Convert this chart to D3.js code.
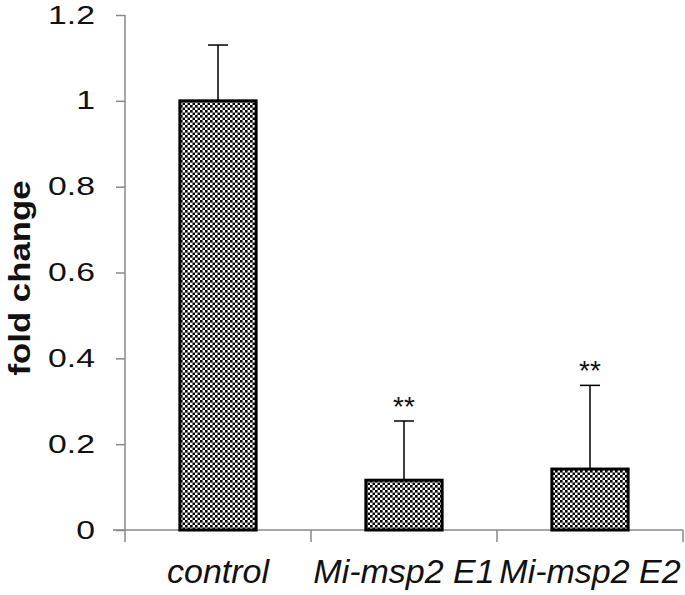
<!DOCTYPE html>
<html>
<head>
<meta charset="utf-8">
<script src="https://cdn.jsdelivr.net/npm/d3@7"></script>
<style>
  body { margin: 0; background: #fff; }
  svg text { font-family: "Liberation Sans", Arial, sans-serif; }
</style>
</head>
<body>
<svg id="chart" width="685" height="595"></svg>
<script>
// data
var categories = ["control", "Mi-msp2 E1", "Mi-msp2 E2"];
var foldChange = [1.0, 0.116, 0.142];
var errUpper = [0.13, 0.138, 0.195];
var stars = ["", "**", "**"];
var yTicks = [0, 0.2, 0.4, 0.6, 0.8, 1, 1.2];

var svg = d3.select("#chart");

var y = d3.scaleLinear().domain([0, 1.2]).range([530, 15]);
var x = d3.scaleBand().domain(categories).range([125, 683]).padding(0);
var barW = x.bandwidth() * 0.41;

// checker fill like the original hatch
var defs = svg.append("defs");
var pat = defs.append("pattern")
  .attr("id", "checker")
  .attr("patternUnits", "userSpaceOnUse")
  .attr("width", 5).attr("height", 5);
pat.append("rect").attr("width", 5).attr("height", 5).attr("fill", "#fff");
pat.append("rect").attr("x", 0).attr("y", 0).attr("width", 2.6).attr("height", 2.6).attr("fill", "#000");
pat.append("rect").attr("x", 2.5).attr("y", 2.5).attr("width", 2.6).attr("height", 2.6).attr("fill", "#000");

/* y axis */
var tickScaleX = 1.35;
var yAxis = svg.append("g")
  .attr("transform", "translate(125,0)")
  .call(d3.axisLeft(y).tickValues(yTicks).tickFormat(function(d){ return d; })
        .tickSize(9).tickPadding(21));
yAxis.select(".domain").attr("stroke", "#888").attr("stroke-width", 1.5).attr("d", "M0,15V530");
yAxis.selectAll(".tick line").attr("stroke", "#888").attr("stroke-width", 1.5);
// tick labels in the original are set in a wide face: widen them
yAxis.selectAll(".tick text")
  .attr("font-size", 25).attr("fill", "#111")
  .attr("x", -30 / tickScaleX)
  .attr("transform", "scale(" + tickScaleX + ",1)")
  .style("font-family", "'Liberation Sans', Arial, sans-serif");

/* x axis: baseline plus ticks between categories */
svg.append("line")
  .attr("x1", 113).attr("x2", x.range()[1])
  .attr("y1", y(0)).attr("y2", y(0))
  .attr("stroke", "#888").attr("stroke-width", 1.5);

var edges = categories.map(function(c){ return x(c); }).concat([x.range()[1]]);
svg.selectAll("line.xtick")
  .data(edges)
  .enter()
  .append("line")
  .attr("class", "xtick")
  .attr("x1", function(d){ return d; }).attr("x2", function(d){ return d; })
  .attr("y1", y(0)).attr("y2", y(0) + 12)
  .attr("stroke", "#888").attr("stroke-width", 1.5);

svg.selectAll("text.cat")
  .data(categories)
  .enter()
  .append("text")
  .attr("class", "cat")
  .attr("x", function(d){ return x(d) + x.bandwidth() / 2; })
  .attr("y", 583)
  .attr("text-anchor", "middle")
  .attr("font-size", 34)
  .attr("font-style", "italic")
  .attr("fill", "#111")
  .text(function(d){ return d; });

/* y label */
svg.append("text")
  .attr("transform", "translate(30,278) rotate(-90)")
  .attr("text-anchor", "middle")
  .attr("font-size", 30)
  .attr("font-weight", "bold")
  .attr("textLength", 195)
  .attr("lengthAdjust", "spacingAndGlyphs")
  .attr("fill", "#111")
  .text("fold change");

/* error bars (upper only) */
var cx = function(i){ return x(categories[i]) + x.bandwidth() / 2; };
svg.selectAll("line.err")
  .data(foldChange)
  .enter()
  .append("line")
  .attr("class", "err")
  .attr("x1", function(d, i){ return cx(i); }).attr("x2", function(d, i){ return cx(i); })
  .attr("y1", function(d){ return y(d); })
  .attr("y2", function(d, i){ return y(d + errUpper[i]); })
  .attr("stroke", "#000").attr("stroke-width", 1.5);
svg.selectAll("line.cap")
  .data(foldChange)
  .enter()
  .append("line")
  .attr("class", "cap")
  .attr("x1", function(d, i){ return cx(i) - 10; }).attr("x2", function(d, i){ return cx(i) + 10; })
  .attr("y1", function(d, i){ return y(d + errUpper[i]); })
  .attr("y2", function(d, i){ return y(d + errUpper[i]); })
  .attr("stroke", "#000").attr("stroke-width", 1.5);

/* bars */
svg.selectAll("rect.bar")
  .data(foldChange)
  .enter()
  .append("rect")
  .attr("class", "bar")
  .attr("x", function(d, i){ return cx(i) - barW / 2; })
  .attr("y", function(d){ return y(d); })
  .attr("width", barW)
  .attr("height", function(d){ return y(0) - y(d); })
  .attr("fill", "url(#checker)")
  .attr("stroke", "#000").attr("stroke-width", 3);

/* significance stars */
svg.selectAll("text.star")
  .data(stars)
  .enter()
  .append("text")
  .attr("class", "star")
  .attr("x", function(d, i){ return cx(i); })
  .attr("y", function(d, i){ return y(foldChange[i] + errUpper[i]) - 5; })
  .attr("text-anchor", "middle")
  .attr("font-size", 28)
  .attr("fill", "#111")
  .text(function(d){ return d; });
</script>
</body>
</html>
